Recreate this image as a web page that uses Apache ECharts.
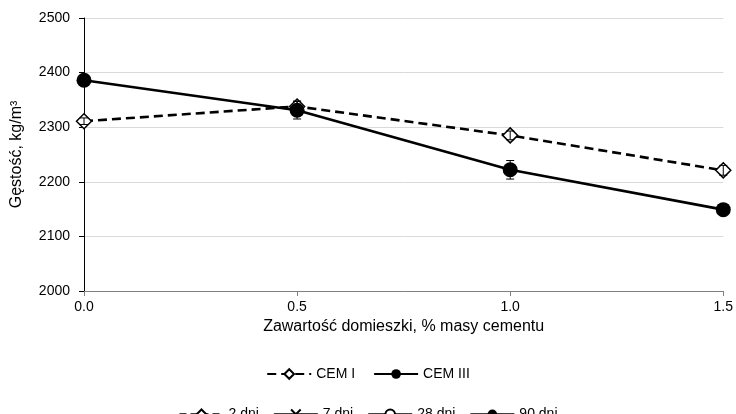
<!DOCTYPE html>
<html>
<head>
<meta charset="utf-8">
<script src="https://cdn.jsdelivr.net/npm/echarts@6/dist/echarts.min.js"></script>
<style>
  html, body { margin: 0; padding: 0; background: #fff; }
  #chart { width: 736px; height: 414px; }
</style>
</head>
<body>
<div id="chart"></div>
<script>
// Admixture content, % of cement mass
const dosage = [0.0, 0.5, 1.0, 1.5];
// Density, kg/m3
const cemI = [2311, 2338, 2285, 2221];
const cemIII = [2386, 2331, 2222, 2149];
// Standard deviation shown as error bars
const cemIErr = [6, 10, 8, 9];
const cemIIIErr = [4, 16, 17, 4];
const yTicks = [2000, 2100, 2200, 2300, 2400, 2500];
const xTicks = [0.0, 0.5, 1.0, 1.5];
const ageNames = ['2 dni', '7 dni', '28 dni', '90 dni'];

const FONT = '"Liberation Sans", Arial, sans-serif';

function pairs(xs, ys) { return xs.map((x, i) => [x, ys[i]]); }
function errData(xs, ys, es) { return xs.map((x, i) => [x, ys[i], es[i]]); }

function errorBars(params, api) {
  const x = api.value(0), y = api.value(1), e = api.value(2);
  const top = api.coord([x, y + e]);
  const bot = api.coord([x, y - e]);
  const hw = 4;
  const style = { stroke: '#000', lineWidth: 1 };
  return {
    type: 'group',
    children: [
      { type: 'line', shape: { x1: top[0], y1: top[1], x2: bot[0], y2: bot[1] }, style },
      { type: 'line', shape: { x1: top[0] - hw, y1: top[1], x2: top[0] + hw, y2: top[1] }, style },
      { type: 'line', shape: { x1: bot[0] - hw, y1: bot[1], x2: bot[0] + hw, y2: bot[1] }, style }
    ]
  };
}

const chart = echarts.init(document.getElementById('chart'), null, { renderer: 'canvas' });

const legendText = { fontFamily: FONT, fontSize: 14, color: '#000' };

chart.setOption({
  animation: false,
  backgroundColor: '#fff',
  grid: { left: 84, right: 7, top: 18, bottom: 123 },
  legend: [
    {
      data: ['CEM I', 'CEM III'],
      top: 362, left: 'center',
      itemWidth: 44, itemHeight: 12, itemGap: 18,
      textStyle: legendText
    },
    {
      data: ageNames,
      top: 402, left: 'center',
      itemWidth: 44, itemHeight: 12, itemGap: 14,
      textStyle: legendText
    }
  ],
  xAxis: {
    type: 'value',
    min: xTicks[0], max: xTicks[xTicks.length - 1], interval: 0.5,
    name: 'Zawartość domieszki, % masy cementu',
    nameLocation: 'middle', nameGap: 27,
    nameTextStyle: { fontFamily: FONT, fontSize: 16, color: '#000' },
    axisLine: { lineStyle: { color: '#7f7f7f', width: 1 } },
    axisTick: { show: true, length: 5, lineStyle: { color: '#7f7f7f' } },
    axisLabel: { fontFamily: FONT, fontSize: 14, color: '#000', margin: 9,
      formatter: v => v.toFixed(1) },
    splitLine: { show: false }
  },
  yAxis: {
    type: 'value',
    min: yTicks[0], max: yTicks[yTicks.length - 1], interval: 100,
    name: 'Gęstość, kg/m³',
    nameLocation: 'middle', nameGap: 59, nameRotate: 90,
    nameTextStyle: { fontFamily: FONT, fontSize: 16, color: '#000' },
    axisLine: { show: true, lineStyle: { color: '#000', width: 1 } },
    axisTick: { show: true, length: 5, lineStyle: { color: '#000' } },
    axisLabel: { fontFamily: FONT, fontSize: 14, color: '#000', margin: 14,
      formatter: v => String(v) },
    splitLine: { show: true, lineStyle: { color: '#d9d9d9', width: 1 } }
  },
  series: [
    {
      name: 'CEM I', type: 'line', data: pairs(dosage, cemI), z: 3,
      symbol: 'diamond', symbolSize: 15,
      itemStyle: { color: '#fff', borderColor: '#000', borderWidth: 1.5 },
      lineStyle: { color: '#000', width: 2.6, type: [9, 5] }
    },
    {
      name: 'CEM III', type: 'line', data: pairs(dosage, cemIII), z: 3,
      symbol: 'circle', symbolSize: 15,
      itemStyle: { color: '#000', borderColor: '#000', borderWidth: 0 },
      lineStyle: { color: '#000', width: 2.6 }
    },
    {
      type: 'custom', renderItem: errorBars, z: 4, silent: true,
      data: errData(dosage, cemI, cemIErr)
    },
    {
      type: 'custom', renderItem: errorBars, z: 4, silent: true,
      data: errData(dosage, cemIII, cemIIIErr)
    },
    // Curing-age key entries (legend only)
    {
      name: ageNames[0], type: 'line', data: [],
      symbol: 'diamond', symbolSize: 10,
      itemStyle: { color: '#fff', borderColor: '#000', borderWidth: 1.2 },
      lineStyle: { color: '#000', width: 2.6, type: [7, 4] }
    },
    {
      name: ageNames[1], type: 'line', data: [],
      symbol: 'path://M0,0L10,10M10,0L0,10', symbolSize: 6,
      itemStyle: { color: 'none', borderColor: '#000', borderWidth: 1 },
      lineStyle: { color: '#000', width: 2.6 }
    },
    {
      name: ageNames[2], type: 'line', data: [],
      symbol: 'circle', symbolSize: 8,
      itemStyle: { color: '#fff', borderColor: '#000', borderWidth: 1 },
      lineStyle: { color: '#000', width: 2.6 }
    },
    {
      name: ageNames[3], type: 'line', data: [],
      symbol: 'circle', symbolSize: 10,
      itemStyle: { color: '#000' },
      lineStyle: { color: '#000', width: 2.6 }
    }
  ]
});
</script>
</body>
</html>
